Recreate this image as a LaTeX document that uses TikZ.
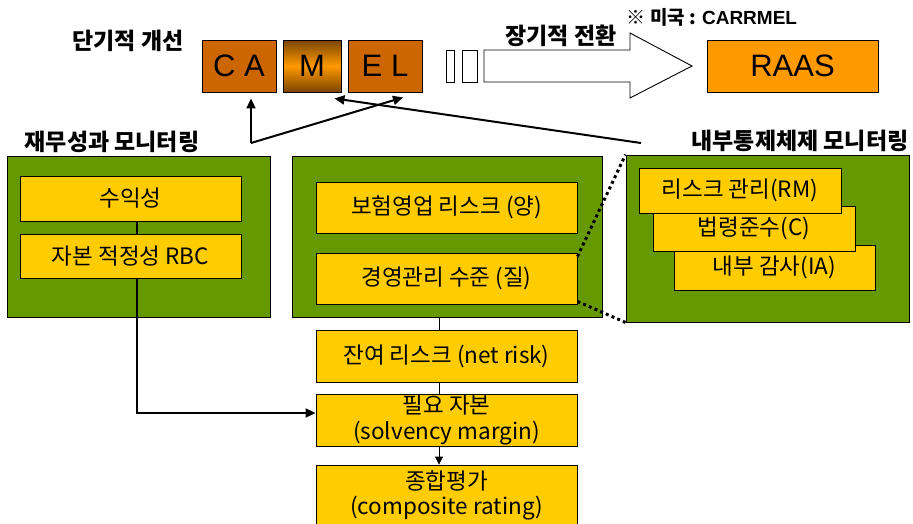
\documentclass[tikz,border=0pt]{standalone}
\usepackage{fontspec}
\setmainfont{Noto Sans CJK KR}
\newfontfamily\latf{Liberation Sans}
\usetikzlibrary{arrows.meta}
\definecolor{grn}{HTML}{669900}
\definecolor{ylw}{HTML}{FFCC00}
\definecolor{org}{HTML}{FF9900}
\definecolor{rust}{HTML}{CC6600}
\definecolor{brn}{HTML}{7A4400}

\begin{document}
\begin{tikzpicture}[x=1pt,y=-1pt,
  panel/.style={draw=black, fill=grn, line width=0.9pt, inner sep=0pt},
  item/.style={draw=black, fill=ylw, line width=0.9pt, align=center, inner sep=0pt,
    font=\fontsize{22.5}{25.5}\selectfont},
  letter/.style={draw=black, line width=0.9pt, inner sep=0pt, minimum height=52pt,
    font=\latf\fontsize{31}{36}\selectfont},
  title/.style={inner sep=0pt, font=\bfseries\fontsize{23}{26}\selectfont},
  link/.style={line width=2pt, -{Triangle[length=10pt,width=9pt]}},
  thin link/.style={line width=0.9pt},
  zoomline/.style={line width=3pt, dash pattern=on 3pt off 3.2pt},
]
\useasboundingbox (0,0) rectangle (913,523);

% CAMEL / RAAS boxes
\node[letter, fill=rust, minimum width=74pt] (ca) at (239,66) {C A};
\node[letter, top color=brn, bottom color=brn, middle color=org, minimum width=58pt] (mm) at (312,66) {M};
\node[letter, fill=rust, minimum width=74pt] (el) at (385,66) {E L};
\node[letter, fill=org, minimum width=171pt] (raas) at (792.5,66) {RAAS};

% open transition arrow
\draw[line width=0.9pt] (446,50) rectangle (454,82);
\draw[line width=0.9pt] (462,50) rectangle (477,82);
\draw[line width=0.9pt, fill=white] (484,50) -- (630,50) -- (630,33) -- (692,66)
  -- (630,98) -- (630,82) -- (484,82) -- cycle;

% headings
\node[title] (short) at (128,41) {단기적 개선};
\node[title] (long) at (561,36) {장기적 전환};
\node[inner sep=0pt, font=\bfseries\fontsize{19}{22}\selectfont] (us) at (712,17) {※ 미국 : {\latf\bfseries CARRMEL}};
\node[title] (fin) at (112,142) {재무성과 모니터링};
\node[title] (ctl) at (800,141) {내부통제체제 모니터링};

% panels
\node[panel, minimum width=263pt, minimum height=161pt] (lp) at (138.5,236.5) {};
\node[panel, minimum width=310pt, minimum height=161pt] (mp) at (447,236.5) {};
\node[panel, minimum width=283pt, minimum height=167pt] (rp) at (767.5,238.5) {};

% left panel items
\node[item, minimum width=221pt, minimum height=45pt] (prof) at (130.5,198.5) {수익성};
\node[item, minimum width=221pt, minimum height=44pt] (rbc) at (130.5,256) {자본 적정성 RBC};

% middle panel items
\node[item, minimum width=261pt, minimum height=51pt] (uw) at (446.5,207.5) {보험영업 리스크 (양)};
\node[item, minimum width=261pt, minimum height=51pt] (mgmt) at (446.5,278.5) {경영관리 수준 (질)};

% right panel items (stacked, front one last)
\node[item, minimum width=201pt, minimum height=45pt] (ia) at (774.5,267.5) {내부 감사(IA)};
\node[item, minimum width=202pt, minimum height=45pt] (cmp) at (754,228.5) {법령준수(C)};
\node[item, minimum width=202pt, minimum height=45pt] (rm) at (740,190.5) {리스크 관리(RM)};

% lower chain
\node[item, minimum width=261pt, minimum height=52pt] (net) at (446.5,356) {잔여 리스크 (net risk)};
\node[item, minimum width=261pt, minimum height=52pt] (need) at (446.5,420) {필요 자본\\(solvency margin)};
\node[item, minimum width=261pt, minimum height=61pt] (comp) at (446.5,495.5) {종합평가\\(composite rating)};

% connectors
\coordinate (lx) at (137,413);
\coordinate (mx) at (439,0);
\draw[line width=2.5pt] (prof.south -| lx) -- (rbc.north -| lx);
\draw[line width=2pt, -{Triangle[length=10pt,width=9pt]}] (rbc.south -| lx) -- (lx) -- (need.west |- lx);
\draw[thin link] (mp.south -| mx) -- (net.north -| mx);
\draw[thin link] (net.south -| mx) -- (need.north -| mx);
\draw[thin link, -{Triangle[length=8pt,width=8pt]}] (need.south -| mx) -- (comp.north -| mx);

% zoom lines to internal control panel
\draw[zoomline] ([yshift=-4pt]mgmt.north east) -- (rp.north west);
\draw[zoomline] ([yshift=3pt]mgmt.south east) -- (rp.south west);

% feedback arrows to CAMEL
\coordinate (fa) at (251,143);
\coordinate (ic) at (641,143);
\draw[link] (fa) -- ([yshift=-6pt]ca.south -| fa);
\draw[link] (fa) -- ([xshift=18pt,yshift=-5pt]el.south);
\draw[link] (ic) -- ([xshift=-7pt,yshift=-6pt]mm.south east);
\end{tikzpicture}
\end{document}
